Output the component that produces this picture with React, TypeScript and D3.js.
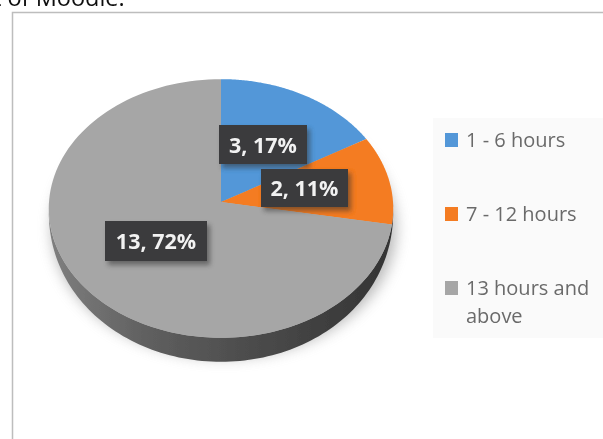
import React from "react";
import * as d3 from "d3";

const categories = ["1 - 6 hours", "7 - 12 hours", "13 hours and above"];
const values = [3, 2, 13];
const percents = ["17%", "11%", "72%"];
const colors = ["#5297d8", "#f47b20", "#a6a6a6"];

const W = 603, H = 439;
const cx = 221, cy = 202, rx = 172, ry = 129, persp = 0.05, depth = 24;

// Tilted-disc projection: unit-circle angle -> screen position (nearer edge slightly larger)
const project = (a: number): [number, number] => {
  const u = Math.sin(a), v = -Math.cos(a);
  const s = 1 / (1 - persp * v);
  return [cx + rx * u * s, cy + ry * v * s];
};
const arcPoints = (a0: number, a1: number) =>
  d3.range(0, 121).map((i) => project(a0 + ((a1 - a0) * i) / 120));

const line = d3.line();
const arcs = d3.pie<number>().sort(null)(values);

const fullRim = arcPoints(0, 2 * Math.PI);
const frontAngles = d3.range(0, 121).map((i) => Math.PI / 2 + (Math.PI * i) / 120);
const frontRim = frontAngles.map((a) => project(a));
// The lower edge of the wall closes onto the rim towards both sides, as in the perspective view.
const lowerRim = frontAngles.map((a, i) => {
  const v = Math.max(0, -Math.cos(a));
  const [x, y] = frontRim[i];
  return [x, y + depth * Math.pow(v, 0.7)] as [number, number];
});
const wall = [...frontRim, ...lowerRim.slice().reverse()];

const labelBoxes = [
  { x: 219, y: 125, w: 88, h: 39 },
  { x: 261, y: 169, w: 87, h: 38 },
  { x: 105, y: 221, w: 102, h: 40 },
];
const legendY = [140, 214, 288];

export default function App() {
  return (
    <svg width={W} height={H} viewBox={`0 0 ${W} ${H}`} style={{ position: "absolute", left: 0, top: 0, background: "#fff" }}>
      <defs>
        <filter id="soft" x="-5%" y="-5%" width="110%" height="110%"><feGaussianBlur stdDeviation="0.55" /></filter>
        <filter id="shadow" x="-20%" y="-20%" width="140%" height="140%"><feGaussianBlur stdDeviation="7" /></filter>
        <filter id="boxShadow" x="-20%" y="-20%" width="140%" height="150%"><feGaussianBlur stdDeviation="2.5" /></filter>
        <linearGradient id="wallGrad" x1="0" x2="1" y1="0" y2="0">
          <stop offset="0" stopColor="#7f7f7f" />
          <stop offset="0.3" stopColor="#5e5e5e" />
          <stop offset="0.6" stopColor="#4b4b4b" />
          <stop offset="1" stopColor="#333333" />
        </linearGradient>
      </defs>
      <g filter="url(#soft)">
        <text x={-7} y={6} fontFamily="'Open Sans', sans-serif" fontSize={23.5} fill="#111">t of Moodle.</text>
        <rect x={12.5} y={12.5} width={W} height={H} fill="#fff" stroke="#bdbdbd" strokeWidth={1.5} />
        <rect x={433} y={118} width={170} height={220} fill="#fafafa" />
        <path d={line(fullRim.map(([x, y]) => [x + 3, y + 20] as [number, number])) + "Z"} fill="#8c8c8c" opacity={0.6} filter="url(#shadow)" />
        <path d={line(wall) + "Z"} fill="url(#wallGrad)" />
        {arcs.map((d, i) => (
          <path key={categories[i]} d={"M" + cx + "," + cy + "L" + line(arcPoints(d.startAngle, d.endAngle))!.slice(1) + "Z"} fill={colors[i]} />
        ))}
        {labelBoxes.map((b, i) => (
          <g key={i}>
            <rect x={b.x + 3} y={b.y + 4} width={b.w} height={b.h} fill="#333" opacity={0.55} filter="url(#boxShadow)" />
            <rect x={b.x} y={b.y} width={b.w} height={b.h} fill="#3a3a3c" />
            <text x={b.x + b.w / 2} y={b.y + b.h / 2 + 8} textAnchor="middle" fontFamily="'Open Sans', sans-serif" fontWeight={700} fontSize={21.5} fill="#f2f2f2">
              {`${values[i]}, ${percents[i]}`}
            </text>
          </g>
        ))}
        {categories.map((c, i) => (
          <g key={c}>
            <rect x={445} y={legendY[i] - 7} width={13} height={14} fill={colors[i]} />
            <text x={466} y={legendY[i] + 7} fontFamily="'Open Sans', sans-serif" fontSize={20} fill="#6a6a6a">
              {i === 2 ? "13 hours and" : c}
              {i === 2 && <tspan x={466} dy={28}>above</tspan>}
            </text>
          </g>
        ))}
      </g>
    </svg>
  );
}
